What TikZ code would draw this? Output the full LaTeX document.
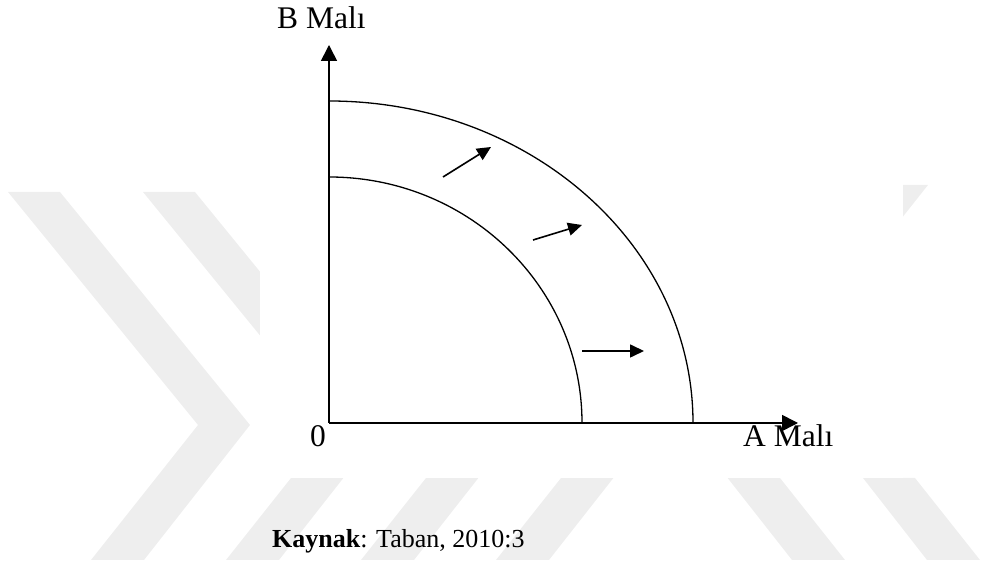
\documentclass[tikz,border=0pt]{standalone}
\usepackage{fontspec}
\setmainfont{Liberation Serif}
\usetikzlibrary{arrows.meta}

\begin{document}
\begin{tikzpicture}[x=1pt, y=1pt,
    axis line/.style={line width=1.6pt, -{Triangle[length=16pt, width=16pt]}},
    curve/.style={line width=1.3pt},
    shift arrow/.style={line width=1.6pt, -{Triangle[length=14pt, width=13pt]}},
    label text/.style={inner sep=0pt, font=\fontsize{31.5}{38}\selectfont},
    source text/.style={inner sep=0pt, font=\fontsize{26}{31}\selectfont},
    mark gray/.style={fill=gray!13}]
  \useasboundingbox (0,0) rectangle (984,572);
  \clip (0,0) rectangle (984,572);

  % watermark behind the figure
  \foreach \dx in {0,135,270,405}
    \fill[mark gray] ({8+\dx},380) -- ({60+\dx},380) -- ({250+\dx},147) -- ({144+\dx},12)
      -- ({91+\dx},12) -- ({198+\dx},147) -- cycle;
  \fill[mark gray] (928,387) -- (876,387) -- (686,147) -- (792,12) -- (845,12) -- (738,147) -- cycle;
  \fill[mark gray] (863,94) -- (915,94) -- (980,12) -- (927,12) -- cycle;
  \fill[white] (260,94) rectangle (903,572);

  \coordinate (O) at (329,149);
  \coordinate (ytip) at (329,527);
  \coordinate (xtip) at (798,149);
  \coordinate (P1) at (582,149);
  \coordinate (P2) at (693,149);

  \draw[axis line] (O) -- (ytip);
  \draw[axis line] (O) -- (xtip);
  \draw[curve] (P1) arc[start angle=0, end angle=90, x radius=253, y radius=246];
  \draw[curve] (P2) arc[start angle=0, end angle=90, x radius=364, y radius=322];

  \coordinate (s1) at (443,395); \coordinate (e1) at (491,425);
  \coordinate (s2) at (533,332); \coordinate (e2) at (582,347);
  \coordinate (s3) at (582,221); \coordinate (e3) at (644,221);
  \draw[shift arrow] (s1) -- (e1);
  \draw[shift arrow] (s2) -- (e2);
  \draw[shift arrow] (s3) -- (e3);

  \node[label text, anchor=base west] (bmal) at (277,543) {B Malı};
  \node[label text, anchor=base east] (zero) at (326,125) {0};
  \node[label text, anchor=base west] (amal) at (743,125) {A Malı};
  \node[source text, anchor=base west] (kaynak) at (272,24) {\textbf{Kaynak}: Taban, 2010:3};
\end{tikzpicture}
\end{document}
